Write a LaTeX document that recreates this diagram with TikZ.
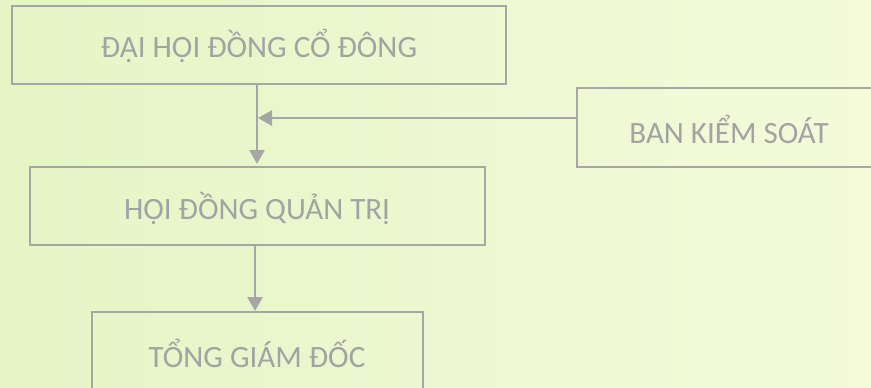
\documentclass[tikz,border=0pt]{standalone}
\usepackage{fontspec}
\setmainfont{Carlito}
\definecolor{bgL}{HTML}{E5F5C5}
\definecolor{bgR}{HTML}{F4FADA}
\definecolor{lineg}{HTML}{A6A6A6}
\definecolor{txtg}{HTML}{A3A3A3}
\usetikzlibrary{arrows.meta}
\begin{document}
\begin{tikzpicture}[x=1pt,y=-1pt,
  orgbox/.style={draw=lineg,line width=2.4pt},
  lbl/.style={text=txtg,font=\fontsize{31}{34}\selectfont,inner sep=0pt},
  conn/.style={draw=lineg,line width=2.8pt,-{Triangle[length=14pt,width=15pt]}}]
\shade[left color=bgL,right color=bgR] (0,0) rectangle (871,388);
\useasboundingbox (0,0) rectangle (871,388);
\draw[orgbox] (12,6) rectangle (506,84);
\node[lbl] (dh) at (259,46) {ĐẠI HỘI ĐỒNG CỔ ĐÔNG};
\coordinate (dhb) at (257,84);
\draw[orgbox] (577,88) rectangle (873,167);
\node[lbl] (bks) at (729,129) {BAN KIỂM SOÁT};
\coordinate (bksl) at (577,118);
\draw[orgbox] (30,167) rectangle (485,245);
\node[lbl] (hd) at (257,208) {HỘI ĐỒNG QUẢN TRỊ};
\coordinate (hdt) at (257,164);
\coordinate (hdb) at (255,245);
\draw[orgbox] (92,312) rectangle (423,392);
\node[lbl] (tgd) at (257,353) {TỔNG GIÁM ĐỐC};
\coordinate (tgdt) at (255,311);
\coordinate (junc) at (258,118);
\draw[conn] (dhb) -- (hdt);
\draw[conn] (bksl) -- (junc);
\draw[conn] (hdb) -- (tgdt);
\end{tikzpicture}
\end{document}
